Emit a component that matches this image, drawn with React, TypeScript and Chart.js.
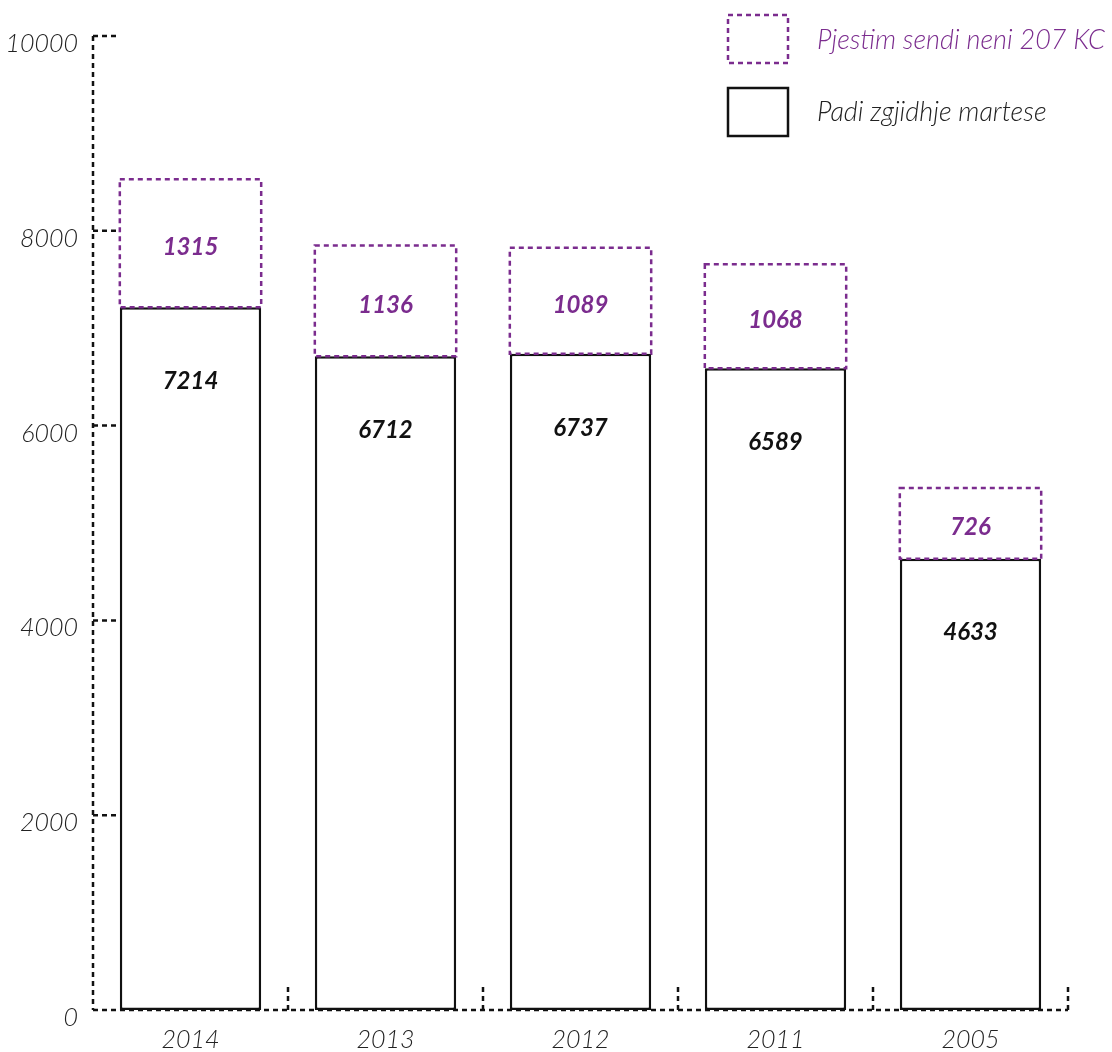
import React, { useEffect, useRef } from "react";
import { Chart, registerables } from "chart.js";

Chart.register(...registerables);

const categories = ["2014", "2013", "2012", "2011", "2005"];
const padiValues = [7214, 6712, 6737, 6589, 4633];
const pjestimValues = [1315, 1136, 1089, 1068, 726];
const yTickValues = [0, 2000, 4000, 6000, 8000, 10000];
const seriesNames = ["Padi zgjidhje martese", "Pjestim sendi neni 207 KC"];

const PURPLE = "#7b2c8e";
const INK = "#111111";
const LABEL = "#222222";
const FONT = "Lato, 'Open Sans', sans-serif";

const decorPlugin = {
  id: "decor",
  beforeDatasetsDraw(chart: any) {
    const ctx = chart.ctx;
    const xs = chart.scales.x;
    const ys = chart.scales.y;
    const a = chart.chartArea;
    ctx.save();
    ctx.lineWidth = 2.5;
    ctx.strokeStyle = INK;
    ctx.setLineDash([5, 4]);
    const seg = (x1: number, y1: number, x2: number, y2: number) => {
      ctx.beginPath();
      ctx.moveTo(x1, y1);
      ctx.lineTo(x2, y2);
      ctx.stroke();
    };
    seg(a.left, a.top, a.left, a.bottom);
    yTickValues.forEach((v) => {
      const py = ys.getPixelForValue(v);
      if (v !== 0) seg(a.left, py, a.left + 24, py);
    });
    seg(a.left, a.bottom, a.right, a.bottom);
    categories.forEach((_, i) => {
      const px = xs.getPixelForValue(i + 0.5);
      seg(px, a.bottom, px, a.bottom - 25);
    });
    ctx.restore();
  },
  afterDatasetsDraw(chart: any) {
    const ctx = chart.ctx;
    const metaPadi = chart.getDatasetMeta(0);
    const metaPj = chart.getDatasetMeta(1);
    ctx.save();
    ctx.lineWidth = 2.5;
    ctx.strokeStyle = PURPLE;
    ctx.setLineDash([5, 4]);
    metaPj.data.forEach((el: any) => {
      const left = el.x - el.width / 2;
      ctx.strokeRect(left, el.y, el.width, el.base - el.y);
    });
    ctx.setLineDash([]);
    ctx.textAlign = "center";
    ctx.textBaseline = "middle";
    ctx.font = `italic 700 24px ${FONT}`;
    ctx.fillStyle = INK;
    metaPadi.data.forEach((el: any, i: number) => {
      ctx.fillText(String(padiValues[i]), el.x, el.y + 74);
    });
    ctx.fillStyle = PURPLE;
    metaPj.data.forEach((el: any, i: number) => {
      ctx.fillText(String(pjestimValues[i]), el.x, (el.y + el.base) / 2 + 4);
    });
    ctx.restore();
  },
  afterDraw(chart: any) {
    const ctx = chart.ctx;
    ctx.save();
    ctx.lineWidth = 2.5;
    ctx.strokeStyle = PURPLE;
    ctx.setLineDash([5, 4]);
    ctx.strokeRect(728, 15, 60, 48);
    ctx.setLineDash([]);
    ctx.strokeStyle = INK;
    ctx.strokeRect(728, 88, 60, 48);
    ctx.font = `italic 300 27px ${FONT}`;
    ctx.textAlign = "left";
    ctx.textBaseline = "middle";
    ctx.fillStyle = PURPLE;
    ctx.fillText(seriesNames[1], 817, 40);
    ctx.fillStyle = "#222222";
    ctx.fillText(seriesNames[0], 817, 112);
    ctx.restore();
  },
};

export default function App() {
  const ref = useRef<HTMLCanvasElement | null>(null);
  useEffect(() => {
    if (!ref.current) return;
    const tickFont = { family: FONT, size: 25, style: "italic" as const, weight: 300 as any };
    const chart = new Chart(ref.current, {
      type: "bar",
      data: {
        labels: categories,
        datasets: [
          {
            label: seriesNames[0],
            data: padiValues,
            backgroundColor: "#ffffff",
            borderColor: INK,
            borderWidth: 2.5,
            borderSkipped: false,
            barPercentage: 0.725,
            categoryPercentage: 1,
          },
          {
            label: seriesNames[1],
            data: pjestimValues,
            backgroundColor: "rgba(0,0,0,0)",
            borderWidth: 0,
            barPercentage: 0.725,
            categoryPercentage: 1,
          },
        ],
      },
      options: {
        responsive: false,
        animation: false,
        layout: { padding: { left: 0, right: 44, top: 36, bottom: 0 } },
        plugins: { legend: { display: false }, tooltip: { enabled: false } },
        scales: {
          x: {
            stacked: true,
            offset: true,
            grid: { display: false, drawTicks: false },
            border: { display: false },
            ticks: { font: tickFont, color: LABEL, padding: 15 },
            afterFit: (s: any) => {
              s.height = 42;
            },
          },
          y: {
            stacked: true,
            min: 0,
            max: 10000,
            afterBuildTicks: (s: any) => {
              s.ticks = yTickValues.map((v) => ({ value: v }));
            },
            grid: { display: false, drawTicks: false },
            border: { display: false },
            ticks: {
              font: tickFont,
              color: LABEL,
              padding: 15,
              labelOffset: 8,
              callback: (v: any) => String(v),
            },
            afterFit: (s: any) => {
              s.width = 93;
            },
          },
        },
      },
      plugins: [decorPlugin],
    });
    return () => chart.destroy();
  }, []);
  return (
    <div style={{ position: "fixed", left: 0, top: 0, width: 1112, height: 1052, background: "#fff" }}>
      <canvas ref={ref} width={1112} height={1052} />
    </div>
  );
}
